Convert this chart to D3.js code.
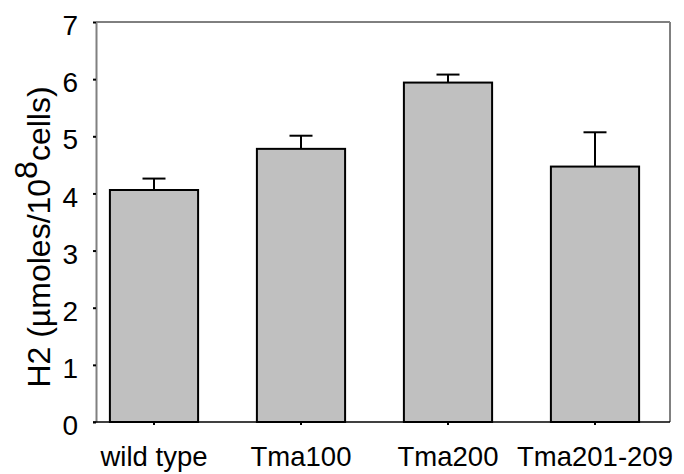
<!DOCTYPE html>
<html>
<head>
<meta charset="utf-8">
<script src="https://cdn.jsdelivr.net/npm/d3@7"></script>
<style>
  body { margin: 0; background: #fff; }
  svg { display: block; font-family: Arial, "Liberation Sans", sans-serif; }
</style>
</head>
<body>
<svg id="chart" width="684" height="474"></svg>
<script>
const categories = ["wild type", "Tma100", "Tma200", "Tma201-209"];
const values = [4.06, 4.78, 5.94, 4.47];
const errors = [0.20, 0.23, 0.14, 0.60];
const yTicks = [0, 1, 2, 3, 4, 5, 6, 7];

(function () {
const svg = d3.select("#chart");
const pL = 96, pR = 670, pT = 22, pB = 422;

const y = d3.scaleLinear().domain([0, 7]).range([pB, pT]);
const x = d3.scaleBand().domain(categories).range([80.5, 668.5]).padding(0);
const barW = x.bandwidth() * 0.6;

// frame: top and right
svg.append("line").attr("x1", pL).attr("x2", pR).attr("y1", pT).attr("y2", pT)
  .attr("stroke", "#000").attr("stroke-width", 1);
svg.append("line").attr("x1", pR).attr("x2", pR).attr("y1", pT).attr("y2", pB)
  .attr("stroke", "#808080").attr("stroke-width", 2);

// bars
const data = categories.map((c, i) => ({ c, v: values[i], e: errors[i] }));
svg.append("g").selectAll("rect").data(data).join("rect")
  .attr("x", d => x(d.c) + x.bandwidth() / 2 - barW / 2)
  .attr("width", barW)
  .attr("y", d => y(d.v))
  .attr("height", d => y(0) - y(d.v))
  .attr("fill", "#c0c0c0")
  .attr("stroke", "#000")
  .attr("stroke-width", 2);

// error bars
const eg = svg.append("g").attr("stroke", "#000").attr("stroke-width", 2);
eg.selectAll("line.v").data(data).join("line").attr("class", "v")
  .attr("x1", d => x(d.c) + x.bandwidth() / 2)
  .attr("x2", d => x(d.c) + x.bandwidth() / 2)
  .attr("y1", d => y(d.v))
  .attr("y2", d => y(d.v + d.e));
eg.selectAll("line.c").data(data).join("line").attr("class", "c")
  .attr("x1", d => x(d.c) + x.bandwidth() / 2 - 11.5)
  .attr("x2", d => x(d.c) + x.bandwidth() / 2 + 11.5)
  .attr("y1", d => y(d.v + d.e))
  .attr("y2", d => y(d.v + d.e));

// y axis
const yAxis = d3.axisLeft(y).tickValues(yTicks).tickFormat(d3.format("d")).tickSizeInner(3).tickSizeOuter(0).tickPadding(15);
const yg = svg.append("g").attr("transform", `translate(${pL},0)`).call(yAxis);
yg.select(".domain").attr("stroke", "#808080").attr("stroke-width", 2);
yg.selectAll(".tick line").attr("stroke", "#000").attr("stroke-width", 2);
yg.selectAll(".tick text").attr("font-size", 28).attr("fill", "#000").attr("dy", "0.45em")
  .attr("font-family", "Arial, 'Liberation Sans', sans-serif");

// x axis
const xAxis = d3.axisBottom(x).tickSizeInner(3).tickSizeOuter(0).tickPadding(21);
const xg = svg.append("g").attr("transform", `translate(0,${pB})`).call(xAxis);
xg.select(".domain").remove();
xg.append("line").attr("x1", pL - 3).attr("x2", pR).attr("y1", 0).attr("y2", 0)
  .attr("stroke", "#000").attr("stroke-width", 1.5);
xg.selectAll(".tick line").attr("stroke", "#000").attr("stroke-width", 2);
xg.selectAll(".tick text").attr("font-size", 27.5).attr("fill", "#000")
  .attr("font-family", "Arial, 'Liberation Sans', sans-serif");

// y label
const lab = svg.append("text")
  .attr("transform", "translate(50,237) rotate(-90)")
  .attr("text-anchor", "middle")
  .attr("font-size", 32)
  .attr("fill", "#000");
lab.append("tspan").text("H2 (µmoles/10");
lab.append("tspan").attr("dy", -13).text("8");
lab.append("tspan").attr("dy", 13).text("cells)");
})();
</script>
</body>
</html>
